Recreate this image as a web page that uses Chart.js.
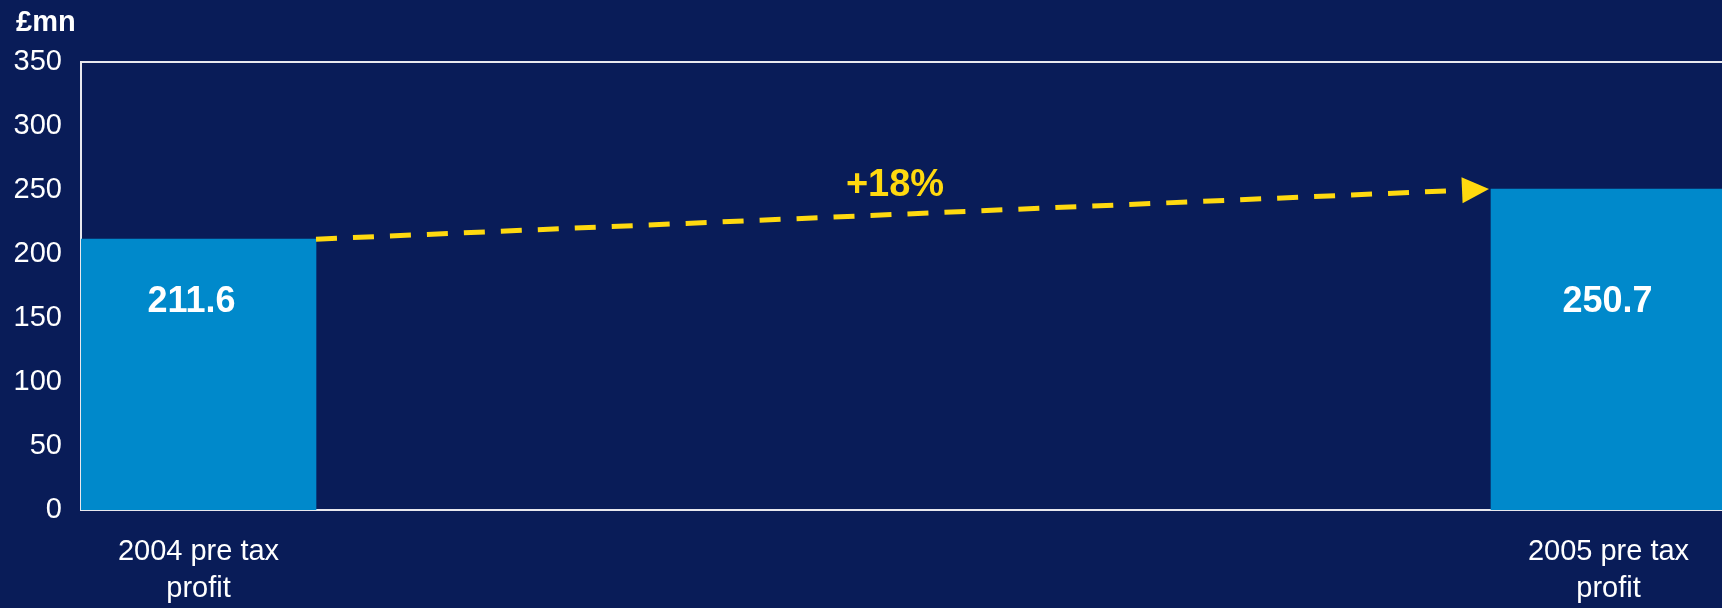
<!DOCTYPE html>
<html>
<head>
<meta charset="utf-8">
<title>Pre tax profit 2004–2005</title>
<script src="https://cdn.jsdelivr.net/npm/chart.js@4.4.1/dist/chart.umd.min.js"></script>
<style>
  html, body { margin: 0; padding: 0; background: #091C58; overflow: hidden; }
  #wrap { width: 1726px; height: 608px; }
  canvas { display: block; }
</style>
</head>
<body>
<div id="wrap"><canvas id="chart" width="1726" height="608"></canvas></div>
<script>
// Chart data
const categories = [['2004 pre tax', 'profit'], ['2005 pre tax', 'profit']];
const profit = [211.6, 250.7];
const valueLabels = ['211.6', '250.7'];
const yTickValues = [0, 50, 100, 150, 200, 250, 300, 350];
const unitLabel = '£mn';
const growthLabel = '+18%';

// The two bars sit at the ends of a seven-slot category axis
const slotCount = 7;
const slotOf = [0, slotCount - 1];
const slotLabels = Array.from({ length: slotCount }, () => '');
const slotValues = Array.from({ length: slotCount }, () => null);
slotOf.forEach((s, i) => { slotLabels[s] = categories[i]; slotValues[s] = profit[i]; });

const FONT = "'Liberation Sans', Arial, Helvetica, sans-serif";
const WHITE = '#FFFFFF';
const LINE = '#E8E8EE';
const YELLOW = '#FFD90F';
const BAR = '#0089CB';

// small horizontal nudges for the in-bar value labels
const valueLabelShift = [-7, -1];

const decorations = {
  id: 'decorations',
  afterDatasetsDraw(chart) {
    const { ctx, chartArea, scales } = chart;
    const meta = chart.getDatasetMeta(0);
    const bars = slotOf.map(s => meta.data[s]);

    ctx.save();
    // top frame line
    ctx.strokeStyle = LINE;
    ctx.lineWidth = 2;
    ctx.beginPath();
    ctx.moveTo(chartArea.left, chartArea.top);
    ctx.lineTo(chartArea.right, chartArea.top);
    ctx.stroke();

    // unit label
    ctx.fillStyle = WHITE;
    ctx.font = `bold 29px ${FONT}`;
    ctx.textAlign = 'left';
    ctx.textBaseline = 'middle';
    ctx.fillText(unitLabel, 16, 23);

    // value labels inside the bars
    ctx.font = `bold 36px ${FONT}`;
    ctx.textAlign = 'center';
    const labelY = scales.y.getPixelForValue(162.5);
    bars.forEach((b, i) => ctx.fillText(valueLabels[i], b.x + valueLabelShift[i], labelY));

    // dashed growth arrow from bar top to bar top
    const x0 = bars[0].x + bars[0].width / 2;
    const y0 = bars[0].y;
    const x1 = bars[1].x - bars[1].width / 2 - 2;
    const y1 = bars[1].y;
    const ang = Math.atan2(y1 - y0, x1 - x0);
    const headLen = 27, headHalf = 13;
    const bx = x1 - headLen * Math.cos(ang);
    const by = y1 - headLen * Math.sin(ang);

    ctx.strokeStyle = YELLOW;
    ctx.lineWidth = 5;
    ctx.setLineDash([21, 16]);
    ctx.beginPath();
    ctx.moveTo(x0, y0);
    ctx.lineTo(bx - 7 * Math.cos(ang), by - 7 * Math.sin(ang));
    ctx.stroke();
    ctx.setLineDash([]);

    ctx.fillStyle = YELLOW;
    ctx.beginPath();
    ctx.moveTo(x1, y1);
    ctx.lineTo(bx - headHalf * Math.sin(ang), by + headHalf * Math.cos(ang));
    ctx.lineTo(bx + headHalf * Math.sin(ang), by - headHalf * Math.cos(ang));
    ctx.closePath();
    ctx.fill();

    // growth label above the arrow
    const mx = (x0 + bx) / 2 + 6;
    const my = y0 + (y1 - y0) * (mx - x0) / (x1 - x0);
    ctx.font = `bold 38px ${FONT}`;
    ctx.textAlign = 'center';
    ctx.textBaseline = 'middle';
    ctx.fillText(growthLabel, mx, my - 29);
    ctx.restore();
  }
};

new Chart(document.getElementById('chart'), {
  type: 'bar',
  data: {
    labels: slotLabels,
    datasets: [{
      data: slotValues,
      backgroundColor: BAR,
      borderWidth: 0,
      barPercentage: 1,
      categoryPercentage: 1
    }]
  },
  options: {
    responsive: false,
    animation: false,
    events: [],
    layout: { padding: { top: 62, right: 0, bottom: 0, left: 0 } },
    plugins: { legend: { display: false }, tooltip: { enabled: false }, title: { display: false } },
    scales: {
      x: {
        grid: { display: false, drawTicks: false },
        border: { display: true, color: LINE, width: 2 },
        ticks: {
          color: WHITE,
          font: { family: FONT, size: 29, lineHeight: 1.27 },
          padding: 24,
          maxRotation: 0,
          autoSkip: false
        },
        afterFit(scale) { scale.height = 98; }
      },
      y: {
        min: 0,
        max: 350,
        grid: { display: false, drawTicks: false },
        border: { display: true, color: LINE, width: 2 },
        afterBuildTicks(scale) { scale.ticks = yTickValues.map(v => ({ value: v })); },
        ticks: {
          color: WHITE,
          font: { family: FONT, size: 29 },
          padding: 19
        },
        afterFit(scale) { scale.width = 81; }
      }
    }
  },
  plugins: [decorations]
});
</script>
</body>
</html>
